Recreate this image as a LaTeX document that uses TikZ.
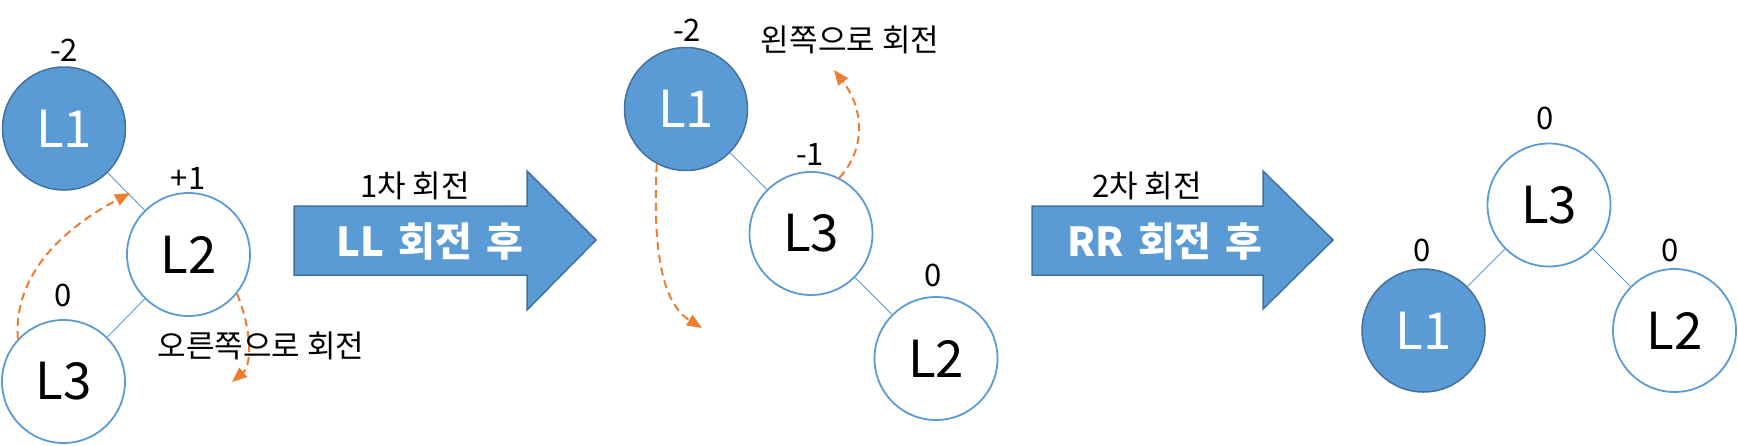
\documentclass[tikz,border=0pt]{standalone}
\usepackage{fontspec}
\setmainfont{Noto Sans CJK KR}
\usetikzlibrary{arrows.meta}
\definecolor{avlblue}{HTML}{5B9BD5}
\definecolor{avldark}{HTML}{41719C}
\definecolor{avlorange}{HTML}{ED7D31}
\definecolor{avlwhite}{HTML}{FFFFFF}

\begin{document}
\begin{tikzpicture}[x=1pt, y=-1pt,
    hot/.style={circle, draw=avldark, fill=avlblue, line width=1.5pt,
                minimum size=123pt, inner sep=0pt, text=avlwhite,
                font=\fontsize{51}{60}\selectfont},
    cold/.style={circle, draw=avlblue, fill=avlwhite, line width=1.8pt,
                 minimum size=123pt, inner sep=0pt, text=black,
                 font=\fontsize{51}{60}\selectfont},
    bf/.style={font=\fontsize{31}{36}\selectfont, inner sep=0pt},
    link/.style={draw=avlblue, line width=0.9pt},
    turn/.style={draw=avlorange, line width=2pt, dash pattern=on 8pt off 5pt,
                 -{Triangle[length=15pt,width=12pt]}},
    blockarrow/.style={draw=avldark, fill=avlblue, line width=1.5pt},
    caption/.style={font=\fontsize{40}{46}\selectfont\bfseries, text=avlwhite}]
    \useasboundingbox (0,0) rectangle (1738,445);

    % before: L1 -> L2 -> L3
    \node[hot]  (a1) at (64,128.5) {L1};
    \node[cold] (a2) at (188.5,254.5) {L2};
    \node[cold] (a3) at (63.5,381.5) {L3};
    \node[bf] (a1b) at (64,50) {-2};
    \node[bf] (a2b) at (188,178) {+1};
    \node[bf] (a3b) at (63,295) {0};
    \draw[link] (a1) -- (a2);
    \draw[link] (a2) -- (a3);
    \coordinate (a3to) at (130,193);
    \coordinate (a2to) at (232,382);
    \draw[turn] (a3.137) .. controls (13,270) and (70,225) .. (a3to);
    \draw[turn] (a2.321) .. controls (252,330) and (252,365) .. (a2to);
    \node[bf] (rtxt) at (261,346) {오른쪽으로 회전};

    % first rotation
    \draw[blockarrow] (294,206) -- (527,206) -- (527,171) -- (596,240)
        -- (527,310) -- (527,275) -- (294,275) -- cycle;
    \node[bf] (s1) at (415,186) {1차 회전};
    \node[caption] (s1in) at (430,242) {LL\hspace{5pt} 회전\hspace{5pt} 후};

    % after LL: L1 -> L3 -> L2
    \node[hot]  (b1) at (686,109) {L1};
    \node[cold] (b3) at (811,233.5) {L3};
    \node[cold] (b2) at (936,358.5) {L2};
    \node[bf] (b1b) at (687,30) {-2};
    \node[bf] (b3b) at (810,154) {-1};
    \node[bf] (b2b) at (933,275) {0};
    \draw[link] (b1) -- (b3);
    \draw[link] (b3) -- (b2);
    \coordinate (b1to) at (702,328);
    \coordinate (b3to) at (834,70);
    \draw[turn] (b1.242) .. controls (652,260) and (665,305) .. (b1to);
    \draw[turn] (b3.63) .. controls (865,150) and (865,110) .. (b3to);
    \node[bf] (ltxt) at (850,40) {왼쪽으로 회전};

    % second rotation
    \draw[blockarrow] (1032,206) -- (1263,206) -- (1263,171) -- (1333,240)
        -- (1263,309) -- (1263,275) -- (1032,275) -- cycle;
    \node[bf] (s2) at (1147,186) {2차 회전};
    \node[caption] (s2in) at (1165,242) {RR\hspace{5pt} 회전\hspace{5pt} 후};

    % after RR: balanced
    \node[cold] (c3) at (1549,205) {L3};
    \node[hot]  (c1) at (1423.5,330.5) {L1};
    \node[cold] (c2) at (1674.5,330.5) {L2};
    \node[bf] (c3b) at (1545,118) {0};
    \node[bf] (c1b) at (1422,250) {0};
    \node[bf] (c2b) at (1670,250) {0};
    \draw[link] (c3) -- (c1);
    \draw[link] (c3) -- (c2);
  \end{tikzpicture}
\end{document}
